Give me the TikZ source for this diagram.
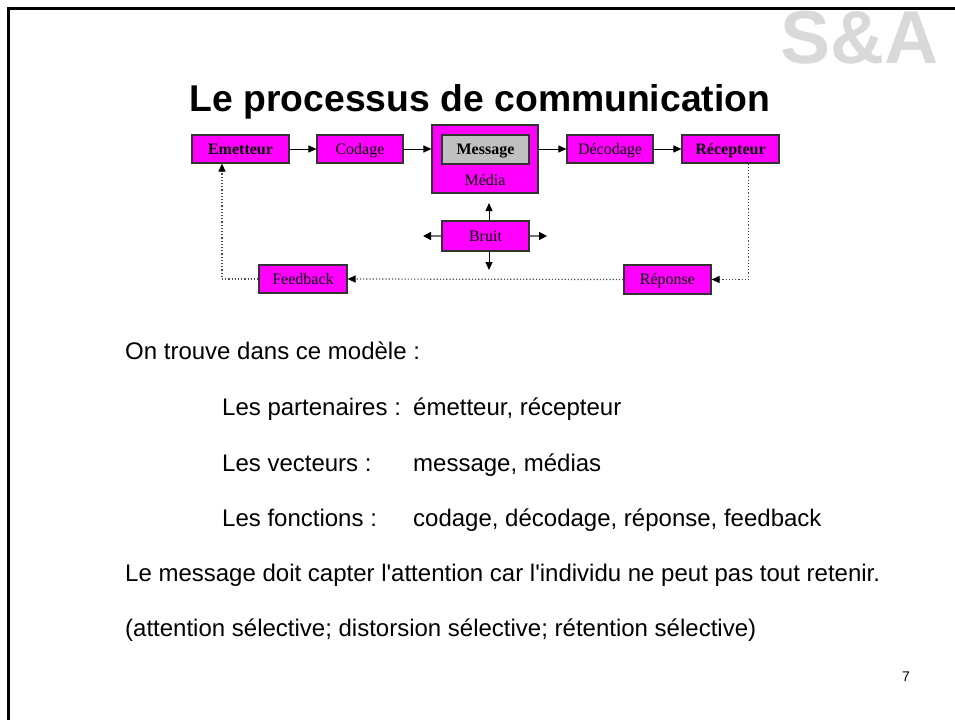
\documentclass[tikz,border=0pt]{standalone}
\usepackage{fontspec}
\setmainfont{Liberation Serif}
\newfontfamily\arial{Liberation Sans}
\usetikzlibrary{arrows.meta,calc}
\definecolor{mag}{RGB}{255,0,255}
\definecolor{msggray}{RGB}{192,192,192}
\definecolor{wm}{RGB}{217,217,217}
\tikzset{
  box/.style={draw=black!80, line width=1.2pt, fill=mag, inner sep=0pt,
    text height=10pt, text depth=0pt, font=\fontsize{16}{18}\selectfont},
  arr/.style={line width=1pt, -{Triangle[length=8pt,width=7pt]}},
  garr/.style={draw=black!55, line width=1.6pt, -{Triangle[length=8pt,width=8pt,color=black]}},
  dotarr/.style={draw=black!70, line width=1.2pt, dotted, -{Triangle[length=8pt,width=7pt,color=black]}},
  body/.style={anchor=base west, inner sep=0pt, font=\arial\fontsize{24}{28}\selectfont},
}
\begin{document}
\begin{tikzpicture}[x=1pt,y=-1pt]
\useasboundingbox (0,0) rectangle (955,720);
\fill[white] (0,0) rectangle (955,720);
% frame
\draw[line width=2.5pt] (955,8.5) -- (8.5,8.5) -- (8.5,720);
% watermark
\node[anchor=base, inner sep=0pt, text=wm, font=\arial\bfseries\fontsize{75}{80}\selectfont] (wmk) at (859.5,63) {S\&A};
% title
\node[anchor=base, inner sep=0pt, font=\arial\bfseries\fontsize{37.3}{42}\selectfont] (title) at (480,111) {Le processus de communication};
% boxes
\node[box, minimum width=97pt, minimum height=28pt] (emet) at (240.5,149) {\textbf{Emetteur}};
\node[box, minimum width=86pt, minimum height=28pt] (cod) at (360,149) {Codage};
\node[box, minimum width=106pt, minimum height=68pt] (media) at (485,159) {};
\node[box, fill=msggray, minimum width=87pt, minimum height=29pt] (msg) at (485.5,149.5) {\textbf{Message}};
\node[inner sep=0pt, text height=10pt, text depth=0pt, font=\fontsize{16}{18}\selectfont] (medtxt) at (485,180) {Média};
\node[box, minimum width=86pt, minimum height=28pt] (decod) at (610,149) {Décodage};
\node[box, minimum width=97pt, minimum height=28pt] (recep) at (730.5,149) {\textbf{Récepteur}};
\node[box, minimum width=87pt, minimum height=30pt] (bruit) at (485.5,236) {Bruit};
\node[box, minimum width=88pt, minimum height=28pt] (fb) at (303,279) {Feedback};
\node[box, minimum width=87pt, minimum height=29pt] (rep) at (667.5,279.5) {Réponse};
% main arrows
\draw[arr] (emet.east) -- (cod.west);
\draw[arr] (cod.east) -- (cod.east -| media.west);
\draw[arr] (media.east |- decod.west) -- (decod.west);
\draw[arr] (decod.east) -- (recep.west);
% feedback loop
\draw[dotarr] ([xshift=18pt]recep.south) |- (rep.east);
\draw[dotarr] (rep.west) -- (fb.east);
\draw[dotarr] (fb.west) -| ([xshift=-18.5pt]emet.south);
% noise arrows
\coordinate (bup) at (489,203);
\coordinate (bdn) at (489,270);
\coordinate (blf) at (423,236);
\coordinate (brt) at (547,236);
\draw[arr] (bruit.north -| bup) -- (bup);
\draw[arr] (bruit.south -| bdn) -- (bdn);
\draw[garr] (bruit.west) -- (blf);
\draw[garr] (bruit.east) -- (brt);
% body text
\node[body] (t1) at (125,359) {On trouve dans ce modèle :};
\node[body] (t2) at (222,415) {Les partenaires :};
\node[body] (t2b) at (413,415) {émetteur, récepteur};
\node[body] (t3) at (222,471) {Les vecteurs :};
\node[body] (t3b) at (413,471) {message, médias};
\node[body] (t4) at (222,526) {Les fonctions :};
\node[body] (t4b) at (413,526) {codage, décodage, réponse, feedback};
\node[body] (t5) at (125,581) {Le message doit capter l'attention car l'individu ne peut pas tout retenir.};
\node[body] (t6) at (125,636) {(attention sélective; distorsion sélective; rétention sélective)};
\node[anchor=base, inner sep=0pt, font=\arial\fontsize{14}{16}\selectfont] (pg) at (906,681) {7};
\end{tikzpicture}
\end{document}
